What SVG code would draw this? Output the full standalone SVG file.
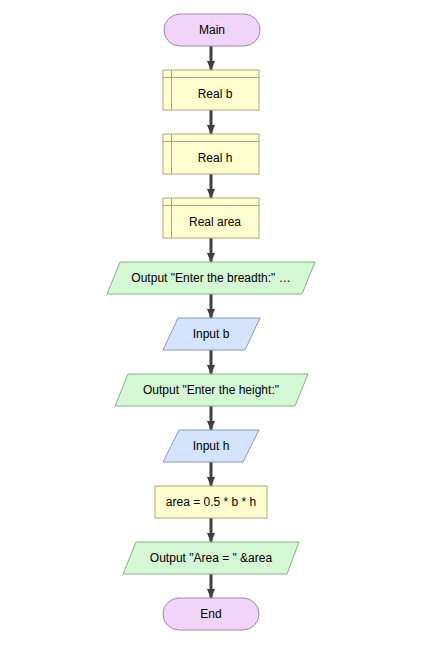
<svg xmlns="http://www.w3.org/2000/svg" width="436" height="660" viewBox="0 0 436 660">
<defs>
<marker id="ah" markerWidth="10" markerHeight="8" refX="9" refY="4" orient="auto" markerUnits="userSpaceOnUse">
<path d="M0,0 L10,4 L0,8 Z" fill="#404040"/>
</marker>
<style>
text{font-family:"Liberation Sans",Arial,sans-serif;font-size:12px;fill:#000;text-anchor:middle;dominant-baseline:central}
.term{fill:#f0d4fa;stroke:#a088a8;stroke-width:1}
.decl{fill:#ffffd0;stroke:#a8a878;stroke-width:1}
.out{fill:#d4f8d4;stroke:#88b088;stroke-width:1}
.inp{fill:#d4e4fc;stroke:#8898c0;stroke-width:1}
.c{stroke:#404040;stroke-width:3;fill:none;marker-end:url(#ah)}
</style>
</defs>
<rect width="436" height="660" fill="#fff"/>
<g id="connectors">
<line class="c" x1="211" y1="46" x2="211" y2="70"/>
<line class="c" x1="211" y1="110" x2="211" y2="134"/>
<line class="c" x1="211" y1="174" x2="211" y2="198"/>
<line class="c" x1="211" y1="238" x2="211" y2="262"/>
<line class="c" x1="211" y1="294" x2="211" y2="318"/>
<line class="c" x1="211" y1="350" x2="211" y2="374"/>
<line class="c" x1="211" y1="406" x2="211" y2="430"/>
<line class="c" x1="211" y1="462" x2="211" y2="486"/>
<line class="c" x1="211" y1="518" x2="211" y2="542"/>
<line class="c" x1="211" y1="574" x2="211" y2="598"/>
</g>
<g id="main"><rect class="term" x="164" y="14" width="96" height="32" rx="16"/><text x="212" y="30">Main</text></g>
<g id="realb"><rect class="decl" x="163" y="70" width="96" height="40"/><path d="M163,77.5H259M171.5,70V110" stroke="#a8a878" fill="none"/><text x="215" y="94">Real b</text></g>
<g id="realh"><rect class="decl" x="163" y="134" width="96" height="40"/><path d="M163,141.5H259M171.5,134V174" stroke="#a8a878" fill="none"/><text x="215" y="158">Real h</text></g>
<g id="realarea"><rect class="decl" x="163" y="198" width="96" height="40"/><path d="M163,205.5H259M171.5,198V238" stroke="#a8a878" fill="none"/><text x="215" y="222">Real area</text></g>
<g id="out1"><polygon class="out" points="120,262 315,262 302,294 107,294"/><text x="211" y="278">Output "Enter the breadth:" …</text></g>
<g id="inb"><polygon class="inp" points="178,318 260,318 245,350 163,350"/><text x="211" y="334">Input b</text></g>
<g id="out2"><polygon class="out" points="128,374 308,374 295,406 115,406"/><text x="211" y="390">Output "Enter the height:"</text></g>
<g id="inh"><polygon class="inp" points="179,430 259,430 243,462 163,462"/><text x="211" y="446">Input h</text></g>
<g id="assign"><rect class="decl" x="155" y="486" width="112" height="32"/><text x="211" y="502">area = 0.5 * b * h</text></g>
<g id="out3"><polygon class="out" points="136,542 299,542 287,574 123,574"/><text x="211" y="558">Output "Area = " &amp;area</text></g>
<g id="end"><rect class="term" x="163" y="598" width="96" height="32" rx="16"/><text x="211" y="614">End</text></g>
</svg>
